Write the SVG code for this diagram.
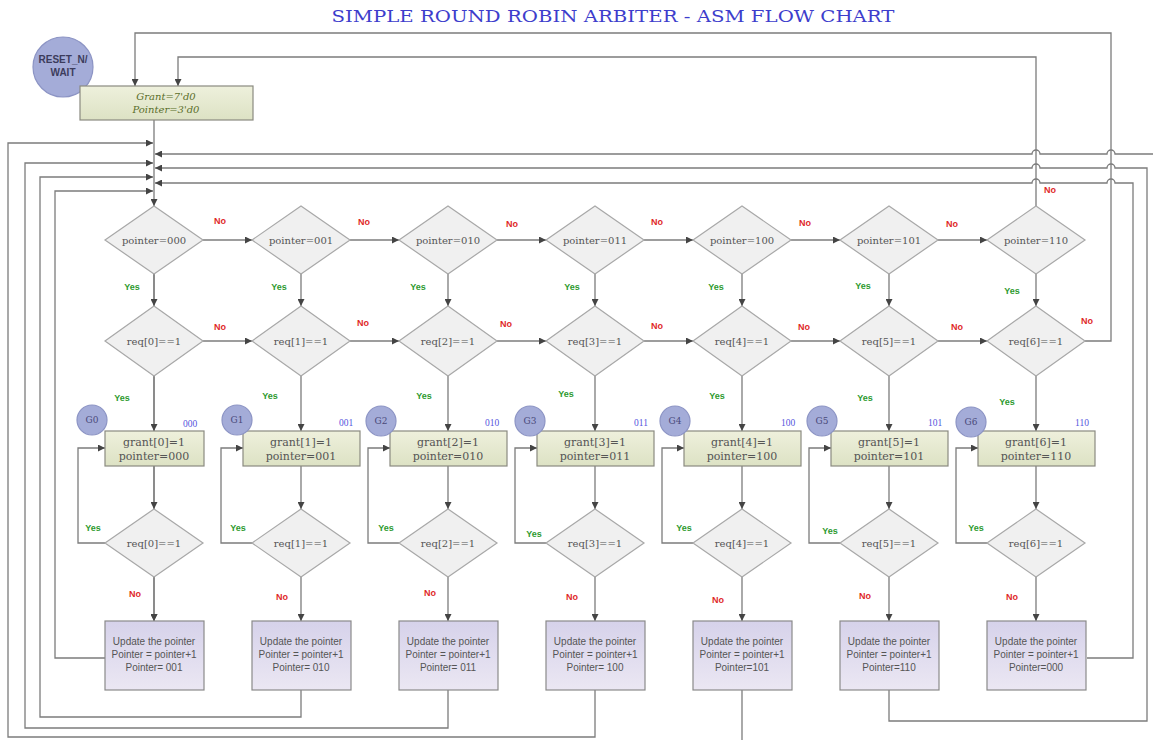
<svg xmlns="http://www.w3.org/2000/svg" width="1153" height="740" viewBox="0 0 1153 740">
<defs>
<marker id="ah" viewBox="0 0 10 10" refX="10" refY="5" markerWidth="7" markerHeight="7" orient="auto" markerUnits="userSpaceOnUse"><path d="M0,0 L10,5 L0,10 z" fill="#444"/></marker>
<linearGradient id="gg" x1="0" y1="0" x2="0" y2="1"><stop offset="0" stop-color="#eef0dc"/><stop offset="1" stop-color="#dde2c4"/></linearGradient>
<linearGradient id="ug" x1="0" y1="0" x2="0" y2="1"><stop offset="0" stop-color="#d6d2ea"/><stop offset="1" stop-color="#ebe7f3"/></linearGradient>
<style>
.ln{fill:none;stroke:#7c7c7c;stroke-width:1.3}
.ar{marker-end:url(#ah)}
.dm{fill:#f0f0f0;stroke:#a8a8a8;stroke-width:1.2}
.gb{fill:url(#gg);stroke:#8a8a80;stroke-width:1.2}
.ub{fill:url(#ug);stroke:#8a8a8a;stroke-width:1.2}
.cir{fill:#a4acd8;stroke:#8c94c4;stroke-width:1.2}
.dt{font-family:"DejaVu Serif",serif;font-size:10px;fill:#555;text-anchor:middle}
.gt{font-family:"DejaVu Serif",serif;font-size:11px;fill:#555;text-anchor:middle}
.ut{font-family:"Liberation Sans",Arial,sans-serif;font-size:10px;fill:#555;text-anchor:middle}
.no{font-family:"Liberation Sans",Arial,sans-serif;font-size:9px;font-weight:bold;fill:#e02828;text-anchor:middle}
.ys{font-family:"Liberation Sans",Arial,sans-serif;font-size:9px;font-weight:bold;fill:#2e9a2e;text-anchor:middle}
.bl{font-family:"Liberation Serif",serif;font-size:9.5px;fill:#5555dd;text-anchor:middle}
.ct{font-family:"DejaVu Serif",serif;font-size:9px;fill:#4a4a7a;text-anchor:middle}
</style>
</defs>
<rect width="1153" height="740" fill="#fff"/>
<text x="613" y="22" font-family="DejaVu Serif,serif" font-size="17" fill="#3d3dcc" text-anchor="middle" textLength="563" lengthAdjust="spacingAndGlyphs">SIMPLE ROUND ROBIN ARBITER - ASM FLOW CHART</text>

<g id="connectors">
<!-- spine -->
<path class="ln ar" d="M154,120 V206"/>
<!-- col6 pointer No -> init -->
<path class="ln ar" d="M1036,206 V57 H178 V86"/>
<!-- col6 req No -> init -->
<path class="ln ar" d="M1085,341 H1111 V33 H135 V86"/>
<!-- left returns -->
<path class="ln ar" d="M105,658 H55 V191 H153"/>
<path class="ln ar" d="M301,690 V717 H40 V177 H153"/>
<path class="ln ar" d="M448,690 V728 H25 V163 H153"/>
<path class="ln ar" d="M595,690 V737 H8 V143 H153"/>
<!-- right returns -->
<path class="ln" d="M742,690 V741"/>
<path class="ln ar" d="M1154,154 H1115 A4,4 0 0 0 1107,154 H1040 A4,4 0 0 0 1032,154 H155"/>
<path class="ln ar" d="M889,690 V721 H1147 V168 H1115 A4,4 0 0 0 1107,168 H1040 A4,4 0 0 0 1032,168 H155"/>
<path class="ln ar" d="M1087,658 H1133 V183 H1115 A4,4 0 0 0 1107,183 H1040 A4,4 0 0 0 1032,183 H155"/>
<!-- row1 No -->
<path class="ln ar" d="M203,240 H252"/>
<path class="ln ar" d="M350,240 H399"/>
<path class="ln ar" d="M497,240 H546"/>
<path class="ln ar" d="M644,240 H693"/>
<path class="ln ar" d="M791,240 H840"/>
<path class="ln ar" d="M938,240 H987"/>
<!-- row2 No -->
<path class="ln ar" d="M203,341 H252"/>
<path class="ln ar" d="M350,341 H399"/>
<path class="ln ar" d="M497,341 H546"/>
<path class="ln ar" d="M644,341 H693"/>
<path class="ln ar" d="M791,341 H840"/>
<path class="ln ar" d="M938,341 H987"/>
<!-- verticals per column -->
<path class="ln ar" d="M154,274 V306 M154,376 V431 M154,466 V509 M154,577 V621"/>
<path class="ln ar" d="M301,274 V306"/><path class="ln ar" d="M301,376 V431"/><path class="ln ar" d="M301,466 V509"/><path class="ln ar" d="M301,577 V621"/>
<path class="ln ar" d="M448,274 V306"/><path class="ln ar" d="M448,376 V431"/><path class="ln ar" d="M448,466 V509"/><path class="ln ar" d="M448,577 V621"/>
<path class="ln ar" d="M595,274 V306"/><path class="ln ar" d="M595,376 V431"/><path class="ln ar" d="M595,466 V509"/><path class="ln ar" d="M595,577 V621"/>
<path class="ln ar" d="M742,274 V306"/><path class="ln ar" d="M742,376 V431"/><path class="ln ar" d="M742,466 V509"/><path class="ln ar" d="M742,577 V621"/>
<path class="ln ar" d="M889,274 V306"/><path class="ln ar" d="M889,376 V431"/><path class="ln ar" d="M889,466 V509"/><path class="ln ar" d="M889,577 V621"/>
<path class="ln ar" d="M1036,274 V306"/><path class="ln ar" d="M1036,376 V431"/><path class="ln ar" d="M1036,466 V509"/><path class="ln ar" d="M1036,577 V621"/>
<path class="ln ar" d="M154,274 V306"/><path class="ln ar" d="M154,376 V431"/><path class="ln ar" d="M154,466 V509"/><path class="ln ar" d="M154,577 V621"/>
<!-- loop yes -->
<path class="ln ar" d="M105,543 H78 V448 H105"/>
<path class="ln ar" d="M252,543 H221 V448 H243"/>
<path class="ln ar" d="M399,543 H368 V448 H390"/>
<path class="ln ar" d="M546,543 H515 V448 H537"/>
<path class="ln ar" d="M693,543 H662 V448 H684"/>
<path class="ln ar" d="M840,543 H809 V448 H831"/>
<path class="ln ar" d="M987,543 H956 V448 H978"/>
<!-- labels -->
<g id="labels">
<text class="no" x="220" y="224">No</text><text class="no" x="364" y="225">No</text><text class="no" x="512" y="227">No</text><text class="no" x="657" y="225">No</text><text class="no" x="805" y="226">No</text><text class="no" x="952" y="227">No</text><text class="no" x="1050" y="193">No</text>
<text class="ys" x="132" y="290">Yes</text><text class="ys" x="279" y="290">Yes</text><text class="ys" x="418" y="290">Yes</text><text class="ys" x="572" y="290">Yes</text><text class="ys" x="716" y="290">Yes</text><text class="ys" x="863" y="289">Yes</text><text class="ys" x="1012" y="294">Yes</text>
<text class="no" x="220" y="330">No</text><text class="no" x="363" y="326">No</text><text class="no" x="506" y="327">No</text><text class="no" x="657" y="329">No</text><text class="no" x="804" y="330">No</text><text class="no" x="957" y="330">No</text><text class="no" x="1087" y="324">No</text>
<text class="ys" x="122" y="401">Yes</text><text class="ys" x="270" y="399">Yes</text><text class="ys" x="424" y="399">Yes</text><text class="ys" x="566" y="397">Yes</text><text class="ys" x="717" y="399">Yes</text><text class="ys" x="865" y="401">Yes</text><text class="ys" x="1007" y="405">Yes</text>
<text class="ys" x="93" y="531">Yes</text><text class="ys" x="238" y="531">Yes</text><text class="ys" x="386" y="531">Yes</text><text class="ys" x="534" y="537">Yes</text><text class="ys" x="684" y="531">Yes</text><text class="ys" x="830" y="534">Yes</text><text class="ys" x="976" y="531">Yes</text>
<text class="no" x="135" y="597">No</text><text class="no" x="282" y="600">No</text><text class="no" x="430" y="596">No</text><text class="no" x="572" y="600">No</text><text class="no" x="718" y="603">No</text><text class="no" x="865" y="599">No</text><text class="no" x="1012" y="600">No</text>
</g>
</g>

<g id="reset"><circle class="cir" cx="63" cy="67" r="30"/><text x="63" y="63" font-family="Liberation Sans,Arial,sans-serif" font-size="10" font-weight="bold" fill="#3c3c5c" text-anchor="middle">RESET_N/</text><text x="63" y="76" font-family="Liberation Sans,Arial,sans-serif" font-size="10" font-weight="bold" fill="#3c3c5c" text-anchor="middle">WAIT</text></g>
<g id="init"><rect class="gb" x="80" y="86" width="173" height="34"/><text x="166" y="100" font-family="DejaVu Serif,serif" font-style="italic" font-size="10" fill="#5a6e2a" text-anchor="middle">Grant=7'd0</text><text x="166" y="113" font-family="DejaVu Serif,serif" font-style="italic" font-size="10" fill="#5a6e2a" text-anchor="middle">Pointer=3'd0</text></g>

<g id="p0"><polygon class="dm" points="105,240 154,206 203,240 154,274"/><text class="dt" x="154" y="244">pointer=000</text></g>
<g id="p1"><polygon class="dm" points="252,240 301,206 350,240 301,274"/><text class="dt" x="301" y="244">pointer=001</text></g>
<g id="p2"><polygon class="dm" points="399,240 448,206 497,240 448,274"/><text class="dt" x="448" y="244">pointer=010</text></g>
<g id="p3"><polygon class="dm" points="546,240 595,206 644,240 595,274"/><text class="dt" x="595" y="244">pointer=011</text></g>
<g id="p4"><polygon class="dm" points="693,240 742,206 791,240 742,274"/><text class="dt" x="742" y="244">pointer=100</text></g>
<g id="p5"><polygon class="dm" points="840,240 889,206 938,240 889,274"/><text class="dt" x="889" y="244">pointer=101</text></g>
<g id="p6"><polygon class="dm" points="987,240 1036,206 1085,240 1036,274"/><text class="dt" x="1036" y="244">pointer=110</text></g>

<g id="r0"><polygon class="dm" points="105,341 154,306 203,341 154,376"/><text class="dt" x="154" y="345">req[0]==1</text></g>
<g id="r1"><polygon class="dm" points="252,341 301,306 350,341 301,376"/><text class="dt" x="301" y="345">req[1]==1</text></g>
<g id="r2"><polygon class="dm" points="399,341 448,306 497,341 448,376"/><text class="dt" x="448" y="345">req[2]==1</text></g>
<g id="r3"><polygon class="dm" points="546,341 595,306 644,341 595,376"/><text class="dt" x="595" y="345">req[3]==1</text></g>
<g id="r4"><polygon class="dm" points="693,341 742,306 791,341 742,376"/><text class="dt" x="742" y="345">req[4]==1</text></g>
<g id="r5"><polygon class="dm" points="840,341 889,306 938,341 889,376"/><text class="dt" x="889" y="345">req[5]==1</text></g>
<g id="r6"><polygon class="dm" points="987,341 1036,306 1085,341 1036,376"/><text class="dt" x="1036" y="345">req[6]==1</text></g>

<g id="g0"><rect class="gb" x="105" y="431" width="99" height="35"/><text class="gt" x="154" y="446">grant[0]=1</text><text class="gt" x="154" y="460">pointer=000</text><circle class="cir" cx="92" cy="420" r="15"/><text class="ct" x="92" y="423">G0</text><text class="bl" x="190" y="427">000</text></g>
<g id="g1"><rect class="gb" x="243" y="431" width="117" height="35"/><text class="gt" x="301" y="446">grant[1]=1</text><text class="gt" x="301" y="460">pointer=001</text><circle class="cir" cx="237" cy="420" r="15"/><text class="ct" x="237" y="423">G1</text><text class="bl" x="346" y="426">001</text></g>
<g id="g2"><rect class="gb" x="390" y="431" width="117" height="35"/><text class="gt" x="448" y="446">grant[2]=1</text><text class="gt" x="448" y="460">pointer=010</text><circle class="cir" cx="381" cy="421" r="15"/><text class="ct" x="381" y="424">G2</text><text class="bl" x="492" y="426">010</text></g>
<g id="g3"><rect class="gb" x="537" y="431" width="117" height="35"/><text class="gt" x="595" y="446">grant[3]=1</text><text class="gt" x="595" y="460">pointer=011</text><circle class="cir" cx="530" cy="421" r="15"/><text class="ct" x="530" y="424">G3</text><text class="bl" x="641" y="426">011</text></g>
<g id="g4"><rect class="gb" x="684" y="431" width="117" height="35"/><text class="gt" x="742" y="446">grant[4]=1</text><text class="gt" x="742" y="460">pointer=100</text><circle class="cir" cx="675" cy="421" r="15"/><text class="ct" x="675" y="424">G4</text><text class="bl" x="788" y="426">100</text></g>
<g id="g5"><rect class="gb" x="831" y="431" width="117" height="35"/><text class="gt" x="889" y="446">grant[5]=1</text><text class="gt" x="889" y="460">pointer=101</text><circle class="cir" cx="822" cy="421" r="15"/><text class="ct" x="822" y="424">G5</text><text class="bl" x="935" y="426">101</text></g>
<g id="g6"><rect class="gb" x="978" y="431" width="117" height="35"/><text class="gt" x="1036" y="446">grant[6]=1</text><text class="gt" x="1036" y="460">pointer=110</text><circle class="cir" cx="971" cy="422" r="15"/><text class="ct" x="971" y="425">G6</text><text class="bl" x="1082" y="426">110</text></g>

<g id="l0"><polygon class="dm" points="105,543 154,509 203,543 154,577"/><text class="dt" x="154" y="547">req[0]==1</text></g>
<g id="l1"><polygon class="dm" points="252,543 301,509 350,543 301,577"/><text class="dt" x="301" y="547">req[1]==1</text></g>
<g id="l2"><polygon class="dm" points="399,543 448,509 497,543 448,577"/><text class="dt" x="448" y="547">req[2]==1</text></g>
<g id="l3"><polygon class="dm" points="546,543 595,509 644,543 595,577"/><text class="dt" x="595" y="547">req[3]==1</text></g>
<g id="l4"><polygon class="dm" points="693,543 742,509 791,543 742,577"/><text class="dt" x="742" y="547">req[4]==1</text></g>
<g id="l5"><polygon class="dm" points="840,543 889,509 938,543 889,577"/><text class="dt" x="889" y="547">req[5]==1</text></g>
<g id="l6"><polygon class="dm" points="987,543 1036,509 1085,543 1036,577"/><text class="dt" x="1036" y="547">req[6]==1</text></g>

<g id="u0"><rect class="ub" x="105" y="621" width="99" height="69"/><text class="ut" x="154" y="645">Update the pointer</text><text class="ut" x="154" y="658">Pointer = pointer+1</text><text class="ut" x="154" y="671">Pointer= 001</text></g>
<g id="u1"><rect class="ub" x="252" y="621" width="99" height="69"/><text class="ut" x="301" y="645">Update the pointer</text><text class="ut" x="301" y="658">Pointer = pointer+1</text><text class="ut" x="301" y="671">Pointer= 010</text></g>
<g id="u2"><rect class="ub" x="399" y="621" width="99" height="69"/><text class="ut" x="448" y="645">Update the pointer</text><text class="ut" x="448" y="658">Pointer = pointer+1</text><text class="ut" x="448" y="671">Pointer= 011</text></g>
<g id="u3"><rect class="ub" x="546" y="621" width="99" height="69"/><text class="ut" x="595" y="645">Update the pointer</text><text class="ut" x="595" y="658">Pointer = pointer+1</text><text class="ut" x="595" y="671">Pointer= 100</text></g>
<g id="u4"><rect class="ub" x="693" y="621" width="99" height="69"/><text class="ut" x="742" y="645">Update the pointer</text><text class="ut" x="742" y="658">Pointer = pointer+1</text><text class="ut" x="742" y="671">Pointer=101</text></g>
<g id="u5"><rect class="ub" x="840" y="621" width="99" height="69"/><text class="ut" x="889" y="645">Update the pointer</text><text class="ut" x="889" y="658">Pointer = pointer+1</text><text class="ut" x="889" y="671">Pointer=110</text></g>
<g id="u6"><rect class="ub" x="987" y="621" width="99" height="69"/><text class="ut" x="1036" y="645">Update the pointer</text><text class="ut" x="1036" y="658">Pointer = pointer+1</text><text class="ut" x="1036" y="671">Pointer=000</text></g>
</svg>
